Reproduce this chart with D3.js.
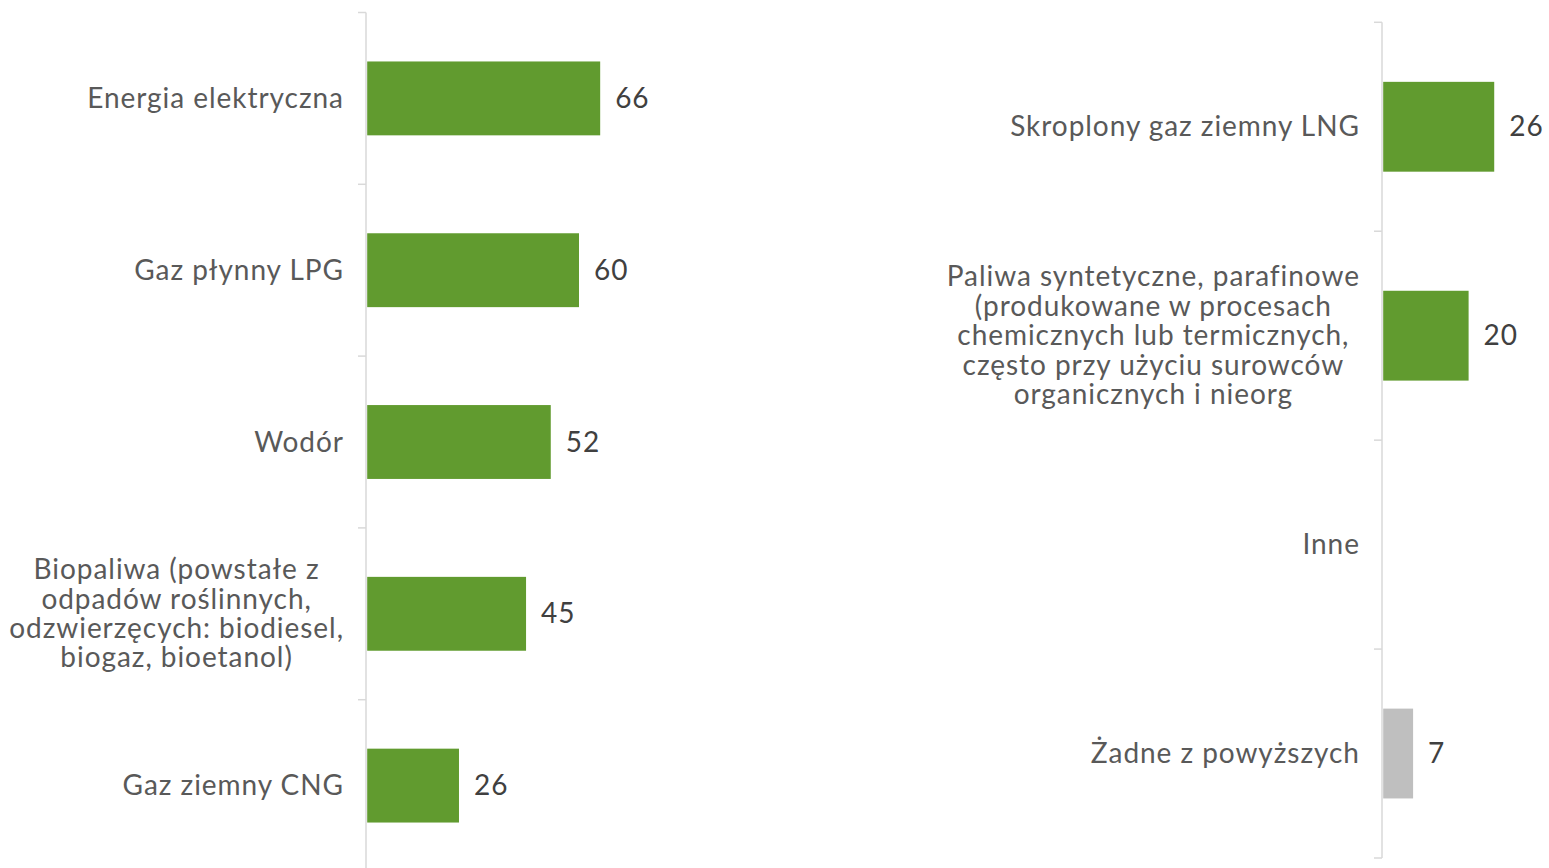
<!DOCTYPE html>
<html>
<head>
<meta charset="utf-8">
<script src="https://cdn.jsdelivr.net/npm/d3@7"></script>
<style>
  html, body { margin: 0; padding: 0; background: #ffffff; }
  svg { display: block; }
  text { font-family: Lato, "Open Sans", sans-serif; letter-spacing: 0.95px; }
</style>
</head>
<body>
<svg id="chart" width="1549" height="868"></svg>
<script>
// Left panel: categories and shares (%)
const leftCategories = [
  "Energia elektryczna",
  "Gaz płynny LPG",
  "Wodór",
  "Biopaliwa (powstałe z\nodpadów roślinnych,\nodzwierzęcych: biodiesel,\nbiogaz, bioetanol)",
  "Gaz ziemny CNG"
];
const leftValues = [66, 60, 52, 45, 26];

// Right panel: categories and shares (%); "Inne" has no bar
const rightCategories = [
  "Skroplony gaz ziemny LNG",
  "Paliwa syntetyczne, parafinowe\n(produkowane w procesach\nchemicznych lub termicznych,\nczęsto przy użyciu surowców\norganicznych i nieorg",
  "Inne",
  "Żadne z powyższych"
];
const rightValues = [26, 20, null, 7];
const rightColors = ["#619b2f", "#619b2f", "#619b2f", "#bfbfbf"];

const svg = d3.select("#chart");

const GREEN = "#619b2f";
const AXIS = "#d9d9d9";
const LABEL = "#595959";
const VALUE = "#404040";
const FONT = 28;
const LINE_H = 29.4;
const PAD_IN = 0.57;
const SPACING = 0.95;

function panel(cfg) {
  const g = svg.append("g");
  const n = cfg.categories.length;

  const y = d3.scaleBand()
    .domain(cfg.categories)
    .range([cfg.top, cfg.bottom])
    .paddingInner(PAD_IN)
    .paddingOuter(PAD_IN / 2);

  const x = d3.scaleLinear()
    .domain([0, cfg.max])
    .range([cfg.axisX + 1.2, cfg.axisX + 1.2 + cfg.width]);

  // vertical category axis
  g.append("line")
    .attr("x1", cfg.axisX).attr("x2", cfg.axisX)
    .attr("y1", cfg.top).attr("y2", cfg.axisEnd)
    .attr("stroke", AXIS).attr("stroke-width", 1.5);

  // tick marks at category boundaries
  const step = y.step();
  const bounds = cfg.categories.map(c => y(c) - step * PAD_IN / 2);
  bounds.push(bounds[n - 1] + step);
  g.selectAll("line.tick").data(bounds).join("line")
    .attr("class", "tick")
    .attr("x1", cfg.axisX - 8).attr("x2", cfg.axisX)
    .attr("y1", d => d).attr("y2", d => d)
    .attr("stroke", AXIS).attr("stroke-width", 1.5);

  const rows = cfg.categories.map((c, i) => ({
    cat: c, value: cfg.values[i], color: cfg.colors[i]
  }));

  // bars
  g.selectAll("rect.bar").data(rows.filter(d => d.value != null)).join("rect")
    .attr("class", "bar")
    .attr("x", x(0))
    .attr("y", d => y(d.cat))
    .attr("width", d => x(d.value) - x(0))
    .attr("height", y.bandwidth())
    .attr("fill", d => d.color);

  // value labels
  g.selectAll("text.value").data(rows.filter(d => d.value != null)).join("text")
    .attr("class", "value")
    .attr("x", d => x(d.value) + 15)
    .attr("y", d => y(d.cat) + y.bandwidth() / 2)
    .attr("dy", "0.34em")
    .attr("fill", VALUE)
    .attr("font-size", FONT)
    .text(d => d.value);

  // category labels, multi-line ones centred as a block ending at the label edge
  rows.forEach(d => {
    const lines = d.cat.split("\n");
    const t = g.append("text")
      .attr("fill", LABEL)
      .attr("font-size", FONT);
    const cy = y(d.cat) + y.bandwidth() / 2;
    const y0 = cy - (lines.length - 1) * LINE_H / 2;
    lines.forEach((ln, k) => {
      t.append("tspan")
        .attr("x", 0)
        .attr("y", y0 + k * LINE_H)
        .attr("dy", "0.34em")
        .text(ln);
    });
    const edge = cfg.axisX - 23 + SPACING;
    if (lines.length === 1) {
      t.attr("text-anchor", "end");
      t.selectAll("tspan").attr("x", edge);
    } else {
      const widths = t.selectAll("tspan").nodes().map(s => s.getComputedTextLength());
      const wMax = d3.max(widths);
      t.attr("text-anchor", "middle");
      t.selectAll("tspan").attr("x", edge - wMax / 2);
    }
  });
}

panel({
  categories: leftCategories, values: leftValues,
  colors: leftCategories.map(() => GREEN),
  axisX: 366, top: 12.5, bottom: 871.5, axisEnd: 868,
  max: 70, width: 70 * 3.53
});

panel({
  categories: rightCategories, values: rightValues,
  colors: rightColors,
  axisX: 1382, top: 22.3, bottom: 858, axisEnd: 858,
  max: 30, width: 30 * 4.27
});
</script>
</body>
</html>
